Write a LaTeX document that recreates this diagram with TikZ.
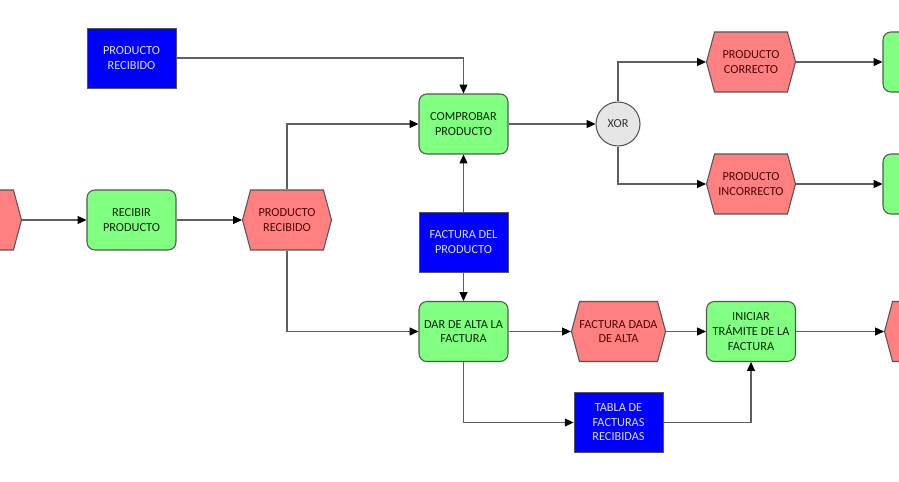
\documentclass[tikz,border=0pt]{standalone}
\usepackage{fontspec}
\setmainfont{Carlito}
\usepackage{tikz}
\usetikzlibrary{shapes.symbols, arrows.meta, positioning}
\definecolor{mygreen}{RGB}{128,255,128}
\definecolor{myred}{RGB}{255,128,128}
\definecolor{myblue}{RGB}{0,0,255}
\definecolor{mygrey}{RGB}{230,230,230}
\definecolor{myedge}{RGB}{85,85,85}
\definecolor{myline}{RGB}{95,95,95}
\definecolor{txtgreen}{RGB}{5,35,5}
\definecolor{txtred}{RGB}{80,5,5}
\definecolor{txtblue}{RGB}{225,225,255}
\tikzset{
  funcbox/.style={rectangle, draw=myedge, fill=mygreen, text=txtgreen,
    minimum width=1.78cm, minimum height=1.2cm, inner sep=1pt,
    align=center, rounded corners=4.5pt, line width=0.6pt},
  eventbox/.style={signal, signal to=west and east, signal pointer angle=150,
    draw=myedge, fill=myred, text=txtred, minimum width=1.78cm,
    minimum height=1.2cm, inner sep=0pt, align=center, line width=0.6pt},
  docbox/.style={rectangle, draw=myedge, fill=myblue, text=txtblue,
    minimum width=1.78cm, minimum height=1.2cm, inner sep=1pt,
    align=center, line width=0.5pt},
  xorgate/.style={circle, draw=myedge, fill=mygrey, text=black!80,
    minimum size=0.88cm, inner sep=0pt, line width=0.6pt},
  flow/.style={-{Triangle[length=5pt, width=4.5pt, color=black]}, color=myline, line width=0.6pt},
}
\begin{document}
\begin{tikzpicture}[x=0.02cm, y=-0.02cm, font=\fontsize{7}{8.3}\selectfont]
  \useasboundingbox (0,0) rectangle (899,482);
  \clip (0,0) rectangle (899,482);

  % Upper row
  \node[docbox] (prdoc) at (131.5,58) {PRODUCTO\\RECIBIDO};
  \node[funcbox] (comprobar) at (463.5,124) {COMPROBAR\\PRODUCTO};
  \node[xorgate] (xor) at (618,124) {XOR};
  \node[eventbox] (correcto) at (751,62) {PRODUCTO\\CORRECTO};
  \node[eventbox] (incorrecto) at (751,184) {PRODUCTO\\INCORRECTO};
  \node[funcbox] (fnok) at (927.5,62) {};
  \node[funcbox] (fnko) at (927.5,184) {};

  % Middle row
  \node[eventbox] (evin) at (-23,220) {};
  \node[funcbox] (recibir) at (131.5,220) {RECIBIR\\PRODUCTO};
  \node[eventbox] (prevt) at (287,220) {PRODUCTO\\RECIBIDO};
  \node[docbox] (factdoc) at (463.5,242) {FACTURA DEL\\PRODUCTO};

  % Lower row
  \node[funcbox] (dar) at (463.5,331.5) {DAR DE ALTA LA\\FACTURA};
  \node[eventbox] (dada) at (618.5,331.5) {FACTURA DADA\\DE ALTA};
  \node[funcbox] (iniciar) at (751,331.5) {INICIAR\\TR\'AMITE DE LA\\FACTURA};
  \node[eventbox] (evout) at (929,331.5) {};
  \node[docbox] (tabla) at (618.5,422.5) {TABLA DE\\FACTURAS\\RECIBIDAS};

  % Connectors
  \draw[flow] (prdoc.east) -| (comprobar.north);
  \draw[flow] (evin.east) -- (recibir.west);
  \draw[flow] (recibir.east) -- (prevt.west);
  \draw[flow] (prevt.north) |- (comprobar.west);
  \draw[flow] (prevt.south) |- (dar.west);
  \draw[flow] (factdoc.north) -- (comprobar.south);
  \draw[flow] (factdoc.south) -- (dar.north);
  \draw[flow] (comprobar.east) -- (xor.west);
  \draw[flow] (xor.north) |- (correcto.west);
  \draw[flow] (xor.south) |- (incorrecto.west);
  \draw[flow] (correcto.east) -- (fnok.west);
  \draw[flow] (incorrecto.east) -- (fnko.west);
  \draw[flow] (dar.east) -- (dada.west);
  \draw[flow] (dada.east) -- (iniciar.west);
  \draw[flow] (iniciar.east) -- (evout.west);
  \draw[flow] (dar.south) |- (tabla.west);
  \draw[flow] (tabla.east) -| (iniciar.south);
\end{tikzpicture}
\end{document}
